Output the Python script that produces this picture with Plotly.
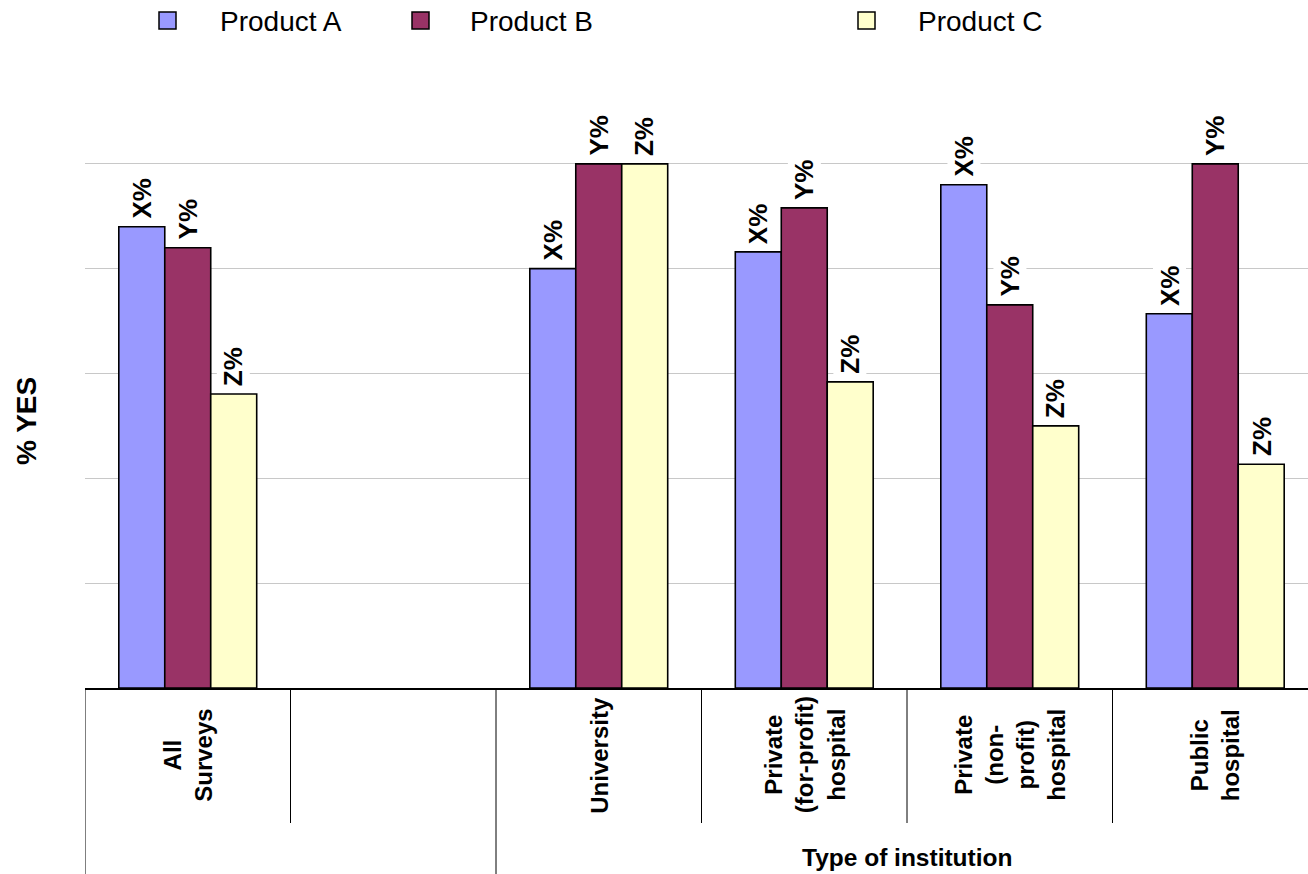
import plotly.graph_objects as go

# ---- data -------------------------------------------------------------
categories = ["All Surveys", "gap", "University", "Private (for-profit) hospital",
              "Private (non-profit) hospital", "Public hospital"]
category_labels = ["All<br>Surveys", "", "University", "Private<br>(for-profit)<br>hospital",
                   "Private<br>(non-<br>profit)<br>hospital", "Public<br>hospital"]
series_names = ["Product A", "Product B", "Product C"]
product_a = [88.0, None, 80.0, 83.2, 96.0, 71.4]
product_b = [84.0, None, 100.0, 91.6, 73.1, 100.0]
product_c = [56.1, None, 100.0, 58.4, 50.0, 42.7]
value_labels = ["X%", "Y%", "Z%"]
group_title = "Type of institution"
y_title = "% YES"

# ---- styling ------------------------------------------------------------
FONT = "Liberation Sans, Arial, sans-serif"
colors = ["#9999FF", "#993366", "#FFFFCC"]
W, H = 1308, 874
L, T, B = 85, 59, 186
plot_h = H - T - B
slot_px = 205.5
x_max = -0.5 + (W - L) / slot_px

def py(pixel_y):
    """pixel row -> paper y"""
    return (H - B - pixel_y) / plot_h

def px(pixel_x):
    return (pixel_x - L) / (W - L)

fig = go.Figure()
series = [product_a, product_b, product_c]
for name, vals, col in zip(series_names, series, colors):
    fig.add_trace(go.Bar(
        x=categories, y=vals, name=name, marker_color=col,
        marker_line=dict(color="black", width=1.6), showlegend=False,
    ))

annotations = []
shift = [-46, 0, 46]
for vals, lab, dx in zip(series, value_labels, shift):
    for cat, v in zip(categories, vals):
        if v is None:
            continue
        annotations.append(dict(
            x=cat, y=v, xref="x", yref="y", text=f"<b>{lab}</b>", showarrow=False,
            textangle=-90, xanchor="center", yanchor="bottom", xshift=dx, yshift=6,
            bgcolor="white", borderpad=1,
            font=dict(family=FONT, size=26, color="black"),
        ))

# category names below the axis
for cat, lab in zip(categories, category_labels):
    if not lab:
        continue
    annotations.append(dict(
        x=cat, y=py(755), xref="x", yref="paper", text=f"<b>{lab}</b>",
        showarrow=False, textangle=-90, xanchor="center", yanchor="middle",
        font=dict(family=FONT, size=24, color="black"),
    ))

annotations.append(dict(
    x=3.5, y=py(857), xref="x", yref="paper", text=f"<b>{group_title}</b>",
    showarrow=False, xanchor="center", yanchor="middle",
    font=dict(family=FONT, size=24.5, color="black"),
))
annotations.append(dict(
    x=px(26), y=py(421), xref="paper", yref="paper", text=f"<b>{y_title}</b>",
    showarrow=False, textangle=-90, xanchor="center", yanchor="middle",
    font=dict(family=FONT, size=28, color="black"),
))

# legend drawn across the top
shapes = []
legend_sq_x = [159, 412, 858]
legend_txt_x = [218, 468, 916]
for name, col, sx, tx in zip(series_names, colors, legend_sq_x, legend_txt_x):
    shapes.append(dict(type="rect", xref="paper", yref="paper",
                       x0=px(sx), x1=px(sx + 17), y0=py(29), y1=py(12),
                       fillcolor=col, line=dict(color="black", width=1.5)))
    annotations.append(dict(
        x=px(tx), y=py(21), xref="paper", yref="paper", text=name,
        showarrow=False, xanchor="left", yanchor="middle",
        font=dict(family=FONT, size=28, color="black"),
    ))

# category dividers under the axis
for xv, bottom in [(-0.5, H), (0.5, 823), (1.5, H), (2.5, 823), (3.5, 823), (4.5, 823)]:
    shapes.append(dict(type="line", xref="x", yref="paper", x0=xv, x1=xv,
                       y0=py(H - B), y1=py(bottom), line=dict(color="black", width=1)))

fig.update_layout(
    width=W, height=H,
    margin=dict(l=L, r=0, t=T, b=B),
    paper_bgcolor="white", plot_bgcolor="white",
    barmode="group", bargap=0.329, bargroupgap=0,
    xaxis=dict(type="category", categoryorder="array", categoryarray=categories,
               range=[-0.5, x_max], showticklabels=False, showgrid=False,
               showline=True, linecolor="black", linewidth=1.5, ticks=""),
    yaxis=dict(range=[0, 120], tickvals=[0, 20, 40, 60, 80, 100], showticklabels=False,
               showgrid=True, gridcolor="#C8C8C8", gridwidth=1, zeroline=False,
               showline=False, ticks=""),
    annotations=annotations, shapes=shapes, showlegend=False,
)

fig.write_html("out.html")
